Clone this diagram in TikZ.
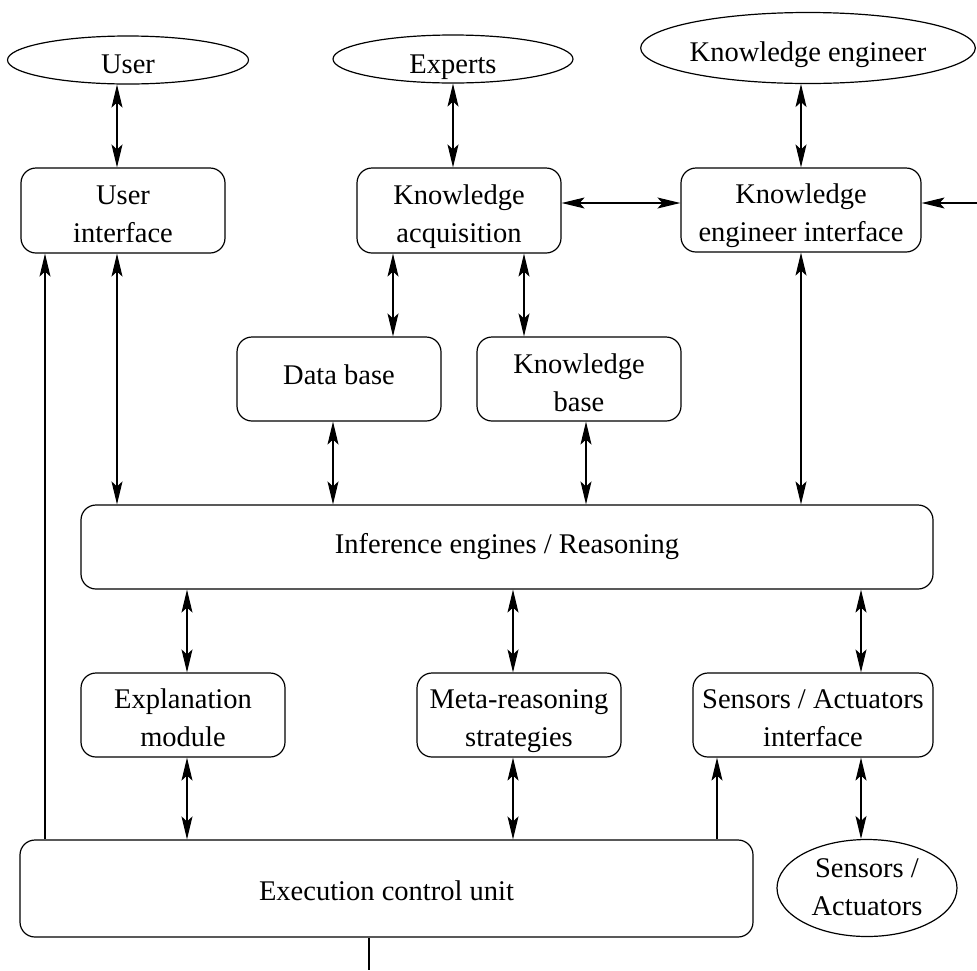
\documentclass[tikz,border=0pt]{standalone}
\usepackage{fontspec}
\setmainfont{Liberation Serif}
\usetikzlibrary{arrows.meta,shapes.geometric}
\newcommand\nodetext[2]{\raisebox{-#1}[0pt][0pt]{\begin{tabular}[t]{@{}c@{}}#2\end{tabular}}}
\begin{document}
\begin{tikzpicture}[x=1pt,y=-1pt,
  every node/.style={font=\rmfamily\fontsize{28.5}{38}\selectfont, inner sep=0pt},
  rbox/.style={draw, line width=1.2pt, rounded corners=15pt},
  oval/.style={draw, line width=1.2pt, ellipse},
  tip/.tip={Stealth[length=23pt,width=11pt,inset=5pt]},
  link/.style={line width=1.2pt, tip-tip},
  tolink/.style={line width=1.2pt, -tip},
  plain/.style={line width=1.2pt}]
\useasboundingbox (0,0) rectangle (977,970);
% ellipses
\node[oval, minimum width=241pt, minimum height=48pt] (user) at (128,60) {\nodetext{13pt}{User}};
\node[oval, minimum width=240pt, minimum height=48pt] (experts) at (453,59) {\nodetext{14pt}{Experts}};
\node[oval, minimum width=330pt, minimum height=71pt] (ke) at (808,48) {\nodetext{13pt}{Knowledge engineer}};
\node[oval, minimum width=180pt, minimum height=97pt] (sens) at (867,888) {\nodetext{-11pt}{Sensors /\\Actuators}};
% boxes
\node[rbox, minimum width=204pt, minimum height=85pt] (ui) at (123,210.5) {\nodetext{-6.5pt}{User\\interface}};
\node[rbox, minimum width=204pt, minimum height=85pt] (ka) at (459,210.5) {\nodetext{-6.5pt}{Knowledge\\acquisition}};
\node[rbox, minimum width=240pt, minimum height=84pt] (kei) at (801,210) {\nodetext{-7pt}{Knowledge\\engineer interface}};
\node[rbox, minimum width=204pt, minimum height=84pt] (db) at (339,379) {\nodetext{5pt}{Data base}};
\node[rbox, minimum width=204pt, minimum height=84pt] (kb) at (579,379) {\nodetext{-6pt}{Knowledge\\base}};
\node[rbox, minimum width=852pt, minimum height=84pt] (inf) at (507,547) {\nodetext{6pt}{Inference engines / Reasoning}};
\node[rbox, minimum width=204pt, minimum height=84pt] (exp) at (183,715) {\nodetext{-7pt}{Explanation\\module}};
\node[rbox, minimum width=204pt, minimum height=84pt] (meta) at (519,715) {\nodetext{-7pt}{Meta-reasoning\\strategies}};
\node[rbox, minimum width=240pt, minimum height=84pt] (sai) at (813,715) {\nodetext{-7pt}{Sensors / Actuators\\interface}};
\node[rbox, minimum width=733pt, minimum height=97pt] (ecu) at (386.5,888.5) {\nodetext{11.5pt}{Execution control unit}};
% free ends
\coordinate (rightin) at (977,203);
\coordinate (bottomout) at (369,970);
% connectors
\draw[link] ([xshift=-11pt]user.south) -- ([xshift=-6pt]ui.north);
\draw[link] (experts.south) -- ([xshift=-6pt]ka.north);
\draw[link] ([xshift=-7pt]ke.south) -- (kei.north);
\draw[link] ([yshift=7.5pt]ka.east) -- ([yshift=7pt]kei.west);
\draw[tolink] (rightin) -- ([yshift=7pt]kei.east);
\draw[link] ([xshift=-66pt]ka.south) -- ([xshift=54pt]db.north);
\draw[link] ([xshift=65pt]ka.south) -- ([xshift=-55pt]kb.north);
\draw[link] ([xshift=-6pt]ui.south) -- ([xshift=-390pt]inf.north);
\draw[tolink] ([xshift=-341.5pt]ecu.north) -- ([xshift=-78pt]ui.south);
\draw[link] ([xshift=-6pt]db.south) -- ([xshift=-174pt]inf.north);
\draw[link] ([xshift=7pt]kb.south) -- ([xshift=79pt]inf.north);
\draw[link] (kei.south) -- ([xshift=294pt]inf.north);
\draw[link] ([xshift=-320pt]inf.south) -- ([xshift=4pt]exp.north);
\draw[link] ([xshift=6pt]inf.south) -- ([xshift=-6pt]meta.north);
\draw[link] ([xshift=354pt]inf.south) -- ([xshift=48pt]sai.north);
\draw[link] ([xshift=4pt]exp.south) -- ([xshift=-199.5pt]ecu.north);
\draw[link] ([xshift=-6pt]meta.south) -- ([xshift=126.5pt]ecu.north);
\draw[tolink] ([xshift=330.5pt]ecu.north) -- ([xshift=-96pt]sai.south);
\draw[link] ([xshift=48pt]sai.south) -- ([xshift=-6pt]sens.north);
\draw[plain] ([xshift=-17.5pt]ecu.south) -- (bottomout);
\end{tikzpicture}
\end{document}
